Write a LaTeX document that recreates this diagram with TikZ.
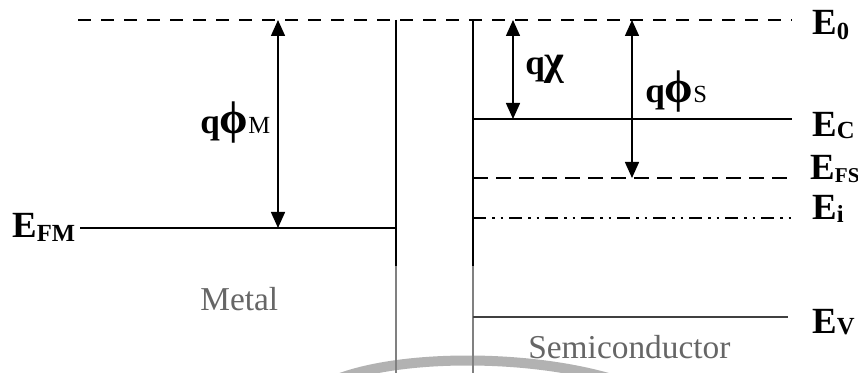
\documentclass[tikz,border=0pt]{standalone}
\usepackage{fontspec}
\setmainfont{Liberation Serif}
\usetikzlibrary{arrows.meta}
\newcommand\lsub[3][0pt]{\raisebox{#1}{\fontsize{#2}{#2}\selectfont #3}}
\newcommand\bigphi{{\fontsize{26}{26}\selectfont\bfseries\char"03D5}}
\begin{document}
\begin{tikzpicture}[x=0.2mm,y=-0.2mm,
  level/.style={line width=0.4mm},
  vacuum/.style={line width=0.5mm, dash pattern=on 2.6mm off 2mm},
  fermi/.style={line width=0.45mm, dash pattern=on 3mm off 1.6mm},
  intrinsic/.style={line width=0.45mm, dash pattern=on 2.6mm off 1.2mm on 0.5mm off 1.2mm on 0.5mm off 1.2mm},
  wall/.style={line width=0.3mm},
  dimarrow/.style={line width=0.3mm, {Triangle[length=3.2mm,width=2.8mm]}-{Triangle[length=3.2mm,width=2.8mm]}},
  elabel/.style={anchor=base west, inner sep=0pt, font=\fontsize{21}{21}\selectfont\bfseries},
  qlabel/.style={anchor=base west, inner sep=0pt, font=\fontsize{20}{20}\selectfont\bfseries},
  region/.style={anchor=base west, inner sep=0pt, text=black!60, font=\fontsize{19}{19}\selectfont},
]
\useasboundingbox (0,0) rectangle (858,373);
% watermark arc
\draw[line width=2mm, black!30] (335,380) .. controls (400,354) and (530,354) .. (615,380);
% coordinates
\coordinate (e0L) at (78,20);   \coordinate (e0R) at (792,20);
\coordinate (wlT) at (396,20);  \coordinate (wlM) at (396,266); \coordinate (wlB) at (396,373);
\coordinate (wrT) at (473,20);  \coordinate (wrM) at (473,266); \coordinate (wrB) at (473,373);
\coordinate (efmL) at (80,228); \coordinate (efmR) at (396,228);
\coordinate (ecL) at (473,119); \coordinate (ecR) at (792,119);
\coordinate (efsL) at (473,178); \coordinate (efsR) at (792,178);
\coordinate (eiL) at (473,218); \coordinate (eiR) at (792,218);
\coordinate (evL) at (473,317); \coordinate (evR) at (788,317);
\coordinate (aMt) at (278,20);  \coordinate (aMb) at (278,228);
\coordinate (aXt) at (513,20);  \coordinate (aXb) at (513,119);
\coordinate (aSt) at (632,20);  \coordinate (aSb) at (632,178);
% levels
\draw[vacuum] (e0L) -- (e0R);
\draw[wall] (wlT) -- (wlM);
\draw[wall, black!50] (wlM) -- (wlB);
\draw[wall] (wrT) -- (wrM);
\draw[wall, black!50] (wrM) -- (wrB);
\draw[level] (efmL) -- (efmR);
\draw[level] (ecL) -- (ecR);
\draw[fermi] (efsL) -- (efsR);
\draw[intrinsic] (eiL) -- (eiR);
\draw[level, black!75] (evL) -- (evR);
% arrows
\draw[dimarrow] (aMt) -- (aMb);
\draw[dimarrow] (aXt) -- (aXb);
\draw[dimarrow] (aSt) -- (aSb);
% labels
\node[elabel] (lE0) at (812,35) {E\lsub[-2.5pt]{14}{0}};
\node[elabel] (lEC) at (812,137) {E\lsub[-1pt]{14}{C}};
\node[elabel] (lEFS) at (810,180) {E\lsub[-1.5pt]{12}{FS}};
\node[elabel] (lEi) at (812,220) {E\lsub[-1.5pt]{14}{i}};
\node[elabel] (lEV) at (812,333) {E\lsub[-1pt]{14}{V}};
\node[elabel] (lEFM) at (12,237) {E\lsub[-2.8pt]{14}{FM}};
\node[qlabel] (lqM) at (200,134) {q\bigphi{\fontsize{14}{14}\selectfont\mdseries M}};
\node[qlabel] (lqX) at (525,75) {q{\fontsize{24}{24}\selectfont\char"03C7}};
\node[qlabel] (lqS) at (645,103) {q\bigphi{\fontsize{14}{14}\selectfont\mdseries S}};
\node[region] (metal) at (200,311) {Metal};
\node[region] (semi) at (528,358) {Semiconductor};
\end{tikzpicture}
\end{document}
